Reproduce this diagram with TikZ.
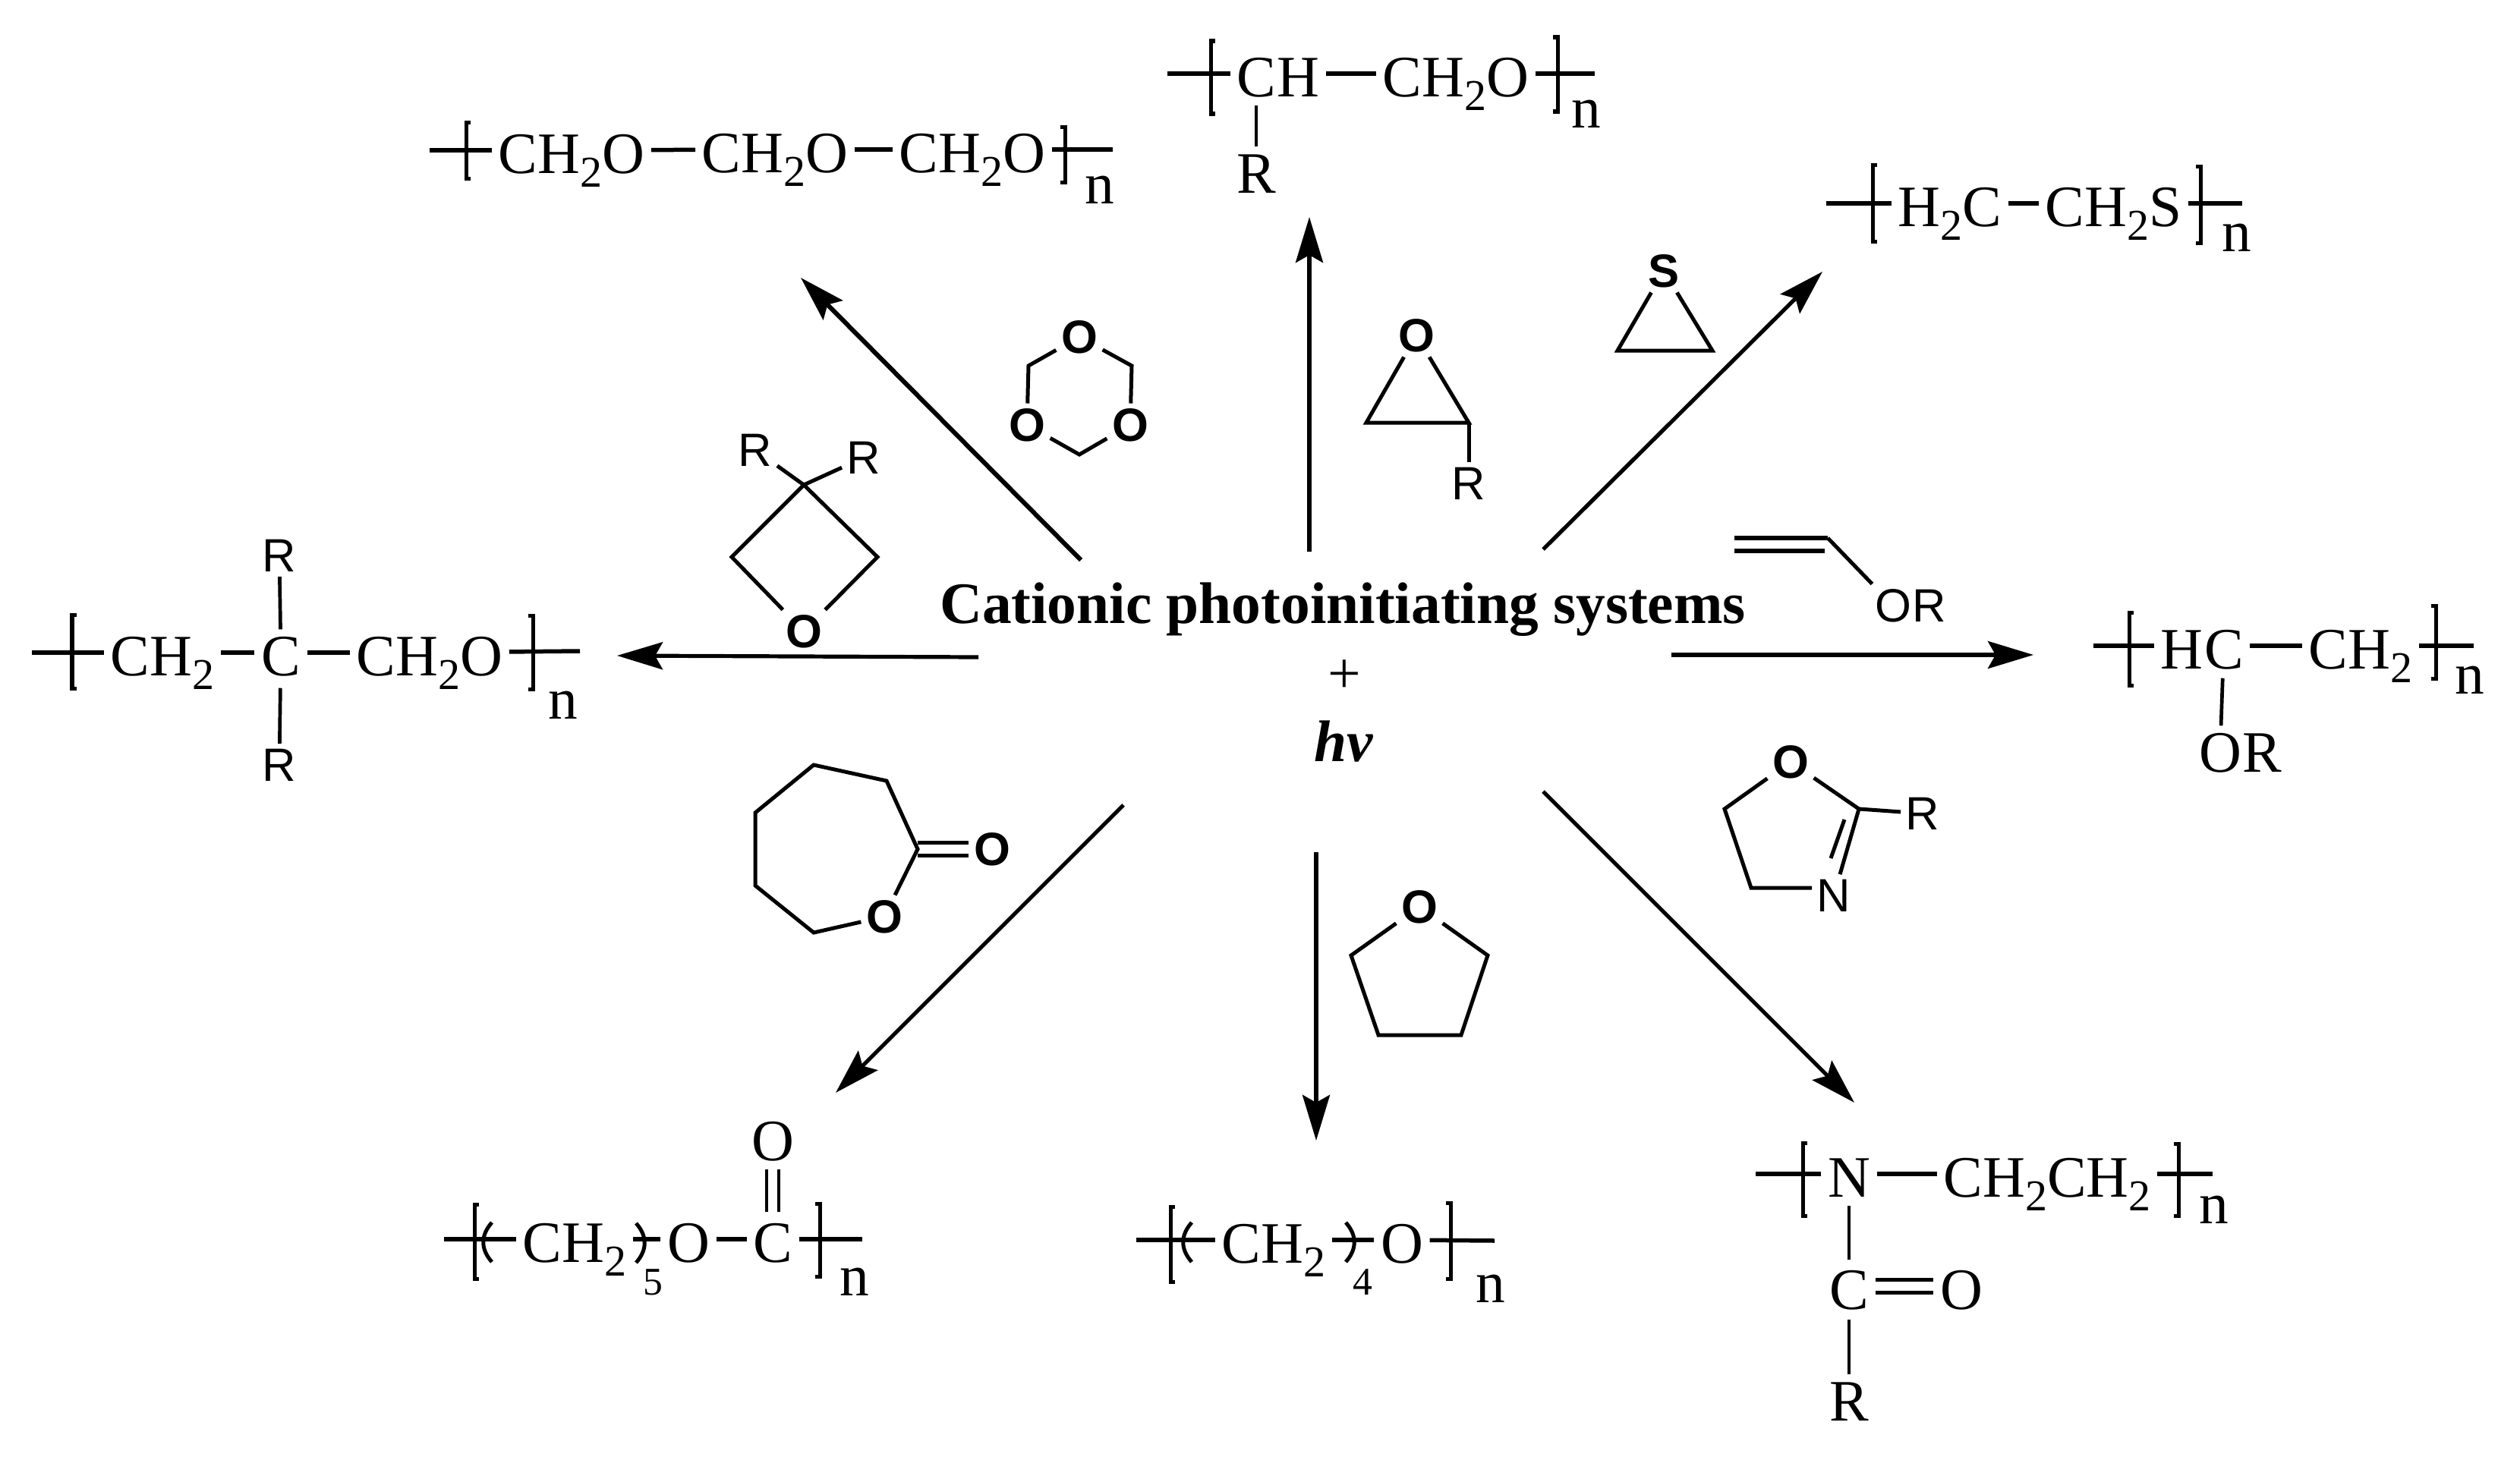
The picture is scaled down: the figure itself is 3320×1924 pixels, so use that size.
\documentclass[tikz,border=0pt]{standalone}
\usepackage{fontspec}
\setmainfont{Liberation Serif}
\setsansfont{Liberation Sans}
\usetikzlibrary{arrows.meta}
\newcommand{\low}[1]{\raisebox{-.18cm}{\fontsize{16.5}{18}\selectfont #1}}
\newcommand{\bral}[3]{\draw[brack] (#1+6,#2) -- (#1,#2) -- (#1,#3) -- (#1+6,#3);}
\newcommand{\brar}[3]{\draw[brack] (#1-6,#2) -- (#1,#2) -- (#1,#3) -- (#1-6,#3);}
\newcommand{\parl}[2]{\draw[brack] (#1,#2-26) .. controls (#1-15,#2-9) and (#1-15,#2+9) .. (#1,#2+26);}
\newcommand{\parr}[2]{\draw[brack] (#1,#2-26) .. controls (#1+15,#2-9) and (#1+15,#2+9) .. (#1,#2+26);}
\tikzset{
  chem/.style={anchor=west,inner sep=0pt,text height=.6cm,text depth=0pt,font=\fontsize{22}{24}\selectfont},
  atom/.style={chem,anchor=center},
  lab/.style={inner sep=.06cm,font=\sffamily\fontsize{17.5}{19}\selectfont},
  labb/.style={inner sep=.06cm,font=\sffamily\bfseries\fontsize{17.5}{19}\selectfont},
  bond/.style={line width=.055cm,shorten <=.08cm,shorten >=.08cm},
  chain/.style={line width=.055cm,shorten >=.08cm},
  vbond/.style={line width=.047cm},
  brack/.style={line width=.05cm},
  ring/.style={line width=.05cm,line join=miter},
  arr/.style={line width=.052cm,-{Stealth[length=.6cm,width=.36cm,inset=.1cm]}},
  title/.style={anchor=base,inner sep=0pt,font=\fontsize{22}{24}\selectfont},
  count/.style={anchor=base,inner sep=0pt,font=\fontsize{14.7}{16}\selectfont}
}
\begin{document}
\begin{tikzpicture}[x=.01cm,y=-.01cm]
\useasboundingbox (0,0) rectangle (3320,1924);

\node (sys) at (1769,821) [title] {\bfseries Cationic photoinitiating systems};
\node (plus) at (1771,913) [title] {+};
\node (hv) at (1770,1003) [title] {\bfseries\itshape hv};

\coordinate (A1s) at (1424,738);
\coordinate (A1e) at (1055,366);
\coordinate (A2s) at (1725,727);
\coordinate (A2e) at (1725,286);
\coordinate (A3s) at (2033,724);
\coordinate (A3e) at (2401,358);
\coordinate (A4s) at (2202,863);
\coordinate (A4e) at (2679,863);
\coordinate (A5s) at (1289,866);
\coordinate (A5e) at (813,864);
\coordinate (A6s) at (2033,1043);
\coordinate (A6e) at (2443,1453);
\coordinate (A7s) at (1734,1123);
\coordinate (A7e) at (1734,1503);
\coordinate (A8s) at (1480,1061);
\coordinate (A8e) at (1101,1440);
\draw [arr,line width=.06cm] (A1s) -- (A1e);
\draw [arr] (A2s) -- (A2e);
\draw [arr] (A3s) -- (A3e);
\draw [arr] (A4s) -- (A4e);
\draw [arr] (A5s) -- (A5e);
\draw [arr] (A6s) -- (A6e);
\draw [arr] (A7s) -- (A7e);
\draw [arr] (A8s) -- (A8e);

\node (P1a) at (656,198) [chem] {CH\low{2}O};
\node (P1b) at (924,197) [chem] {CH\low{2}O};
\node (P1c) at (1184,197) [chem] {CH\low{2}O};
\node (P1n) at (1429,238) [chem] {n};
\coordinate (P1l) at (566,198);
\coordinate (P1r) at (1466,197);
\draw [chain] (P1l) -- (P1a);
\draw [bond] (P1a) -- (P1b);
\draw [bond] (P1b) -- (P1c);
\draw [chain] (P1r) -- (P1c);
\bral{614}{161}{235}
\brar{1403}{167}{240}

\node (P2c) at (1655,97) [atom] {C};
\node (P2h) at (P2c.east) [chem] {H};
\node (P2a) at (1821,97) [chem] {CH\low{2}O};
\node (P2R) at (1655,224) [atom] {R};
\node (P2n) at (2070,138) [chem] {n};
\coordinate (P2l) at (1538,97);
\coordinate (P2r) at (2101,97);
\draw [chain] (P2l) -- (P2c);
\draw [bond] (P2h) -- (P2a);
\draw [chain] (P2r) -- (P2a);
\draw [vbond,shorten <=.11cm] (P2c) -- (P2R);
\bral{1595}{54}{150}
\brar{2052}{49}{147}

\node (P3a) at (2500,268) [chem] {H\low{2}C};
\node (P3b) at (2694,268) [chem] {CH\low{2}S};
\node (P3n) at (2927,301) [chem] {n};
\coordinate (P3l) at (2406,268);
\coordinate (P3r) at (2954,268);
\draw [chain] (P3l) -- (P3a);
\draw [bond] (P3a) -- (P3b);
\draw [chain] (P3r) -- (P3b);
\bral{2467}{217}{318}
\brar{2899}{219}{320}

\node (P4h) at (2846,851) [chem] {H};
\node (P4c) at (P4h.east) [chem] {C};
\node (P4a) at (3041,851) [chem] {CH\low{2}};
\node (P4o) at (2925,987) [atom] {O};
\node (P4R) at (P4o.east) [chem] {R};
\node (P4n) at (3234,884) [chem] {n};
\coordinate (P4l) at (2758,851);
\coordinate (P4r) at (3259,851);
\draw [chain] (P4l) -- (P4h);
\draw [bond] (P4c) -- (P4a);
\draw [chain] (P4r) -- (P4a);
\draw [vbond,shorten <=.12cm] (P4c) -- (P4o);
\bral{2805}{807}{903}
\brar{3209}{798}{894}

\node (P5a) at (145,860) [chem] {CH\low{2}};
\node (P5c) at (370,860) [atom] {C};
\node (P5b) at (469,860) [chem] {CH\low{2}O};
\node (P5n) at (722,917) [chem] {n};
\node (P5Ra) at (368,732) [lab] {R};
\node (P5Rb) at (368,1008) [lab] {R};
\coordinate (P5l) at (42,860);
\coordinate (P5r) at (764,858);
\draw [chain] (P5l) -- (P5a);
\draw [bond] (P5a) -- (P5c);
\draw [bond] (P5c) -- (P5b);
\draw [chain] (P5r) -- (P5b);
\draw [vbond] (P5c) -- (P5Ra);
\draw [vbond,shorten <=.16cm] (P5c) -- (P5Rb);
\bral{95}{810}{907}
\brar{702}{811}{908}

\node (P6a) at (688,1633) [chem] {CH\low{2}};
\node (P6o) at (907,1633) [atom] {O};
\node (P6c) at (1018,1633) [atom] {C};
\node (P6O) at (1018,1499) [atom] {O};
\node (P6n) at (1106,1677) [chem] {n};
\node (P6k) at (860,1706) [count] {5};
\coordinate (P6l) at (585,1633);
\coordinate (P6r) at (1136,1633);
\draw [chain] (P6l) -- (P6a);
\draw [bond] (P6a) -- (P6o);
\draw [bond] (P6o) -- (P6c);
\draw [chain] (P6r) -- (P6c);
\draw [vbond,shorten <=.11cm,shorten >=.05cm] ([xshift=-.08cm]P6O.south) -- ([xshift=-.08cm]P6c.north);
\draw [vbond,shorten <=.11cm,shorten >=.05cm] ([xshift=.08cm]P6O.south) -- ([xshift=.08cm]P6c.north);
\bral{625}{1587}{1685}
\brar{1080}{1586}{1682}
\parl{648}{1637}
\parr{838}{1638}

\node (P7a) at (1609,1634) [chem] {CH\low{2}};
\node (P7o) at (1847,1634) [atom] {O};
\node (P7n) at (1944,1686) [chem] {n};
\node (P7k) at (1795,1706) [count] {4};
\coordinate (P7l) at (1497,1634);
\coordinate (P7r) at (1969,1635);
\draw [chain] (P7l) -- (P7a);
\draw [bond] (P7a) -- (P7o);
\draw [chain] (P7r) -- (P7o);
\bral{1542}{1590}{1689}
\brar{1911}{1585}{1685}
\parl{1570}{1637}
\parr{1773}{1637}

\node (P8N) at (2436,1547) [atom] {N};
\node (P8a) at (2560,1547) [chem] {CH\low{2}CH\low{2}};
\node (P8c) at (2436,1695) [atom] {C};
\node (P8O) at (2584,1695) [atom] {O};
\node (P8R) at (2436,1842) [atom] {R};
\node (P8n) at (2897,1582) [chem] {n};
\coordinate (P8l) at (2313,1547);
\coordinate (P8r) at (2915,1547);
\draw [chain] (P8l) -- (P8N);
\draw [bond] (P8N) -- (P8a);
\draw [chain] (P8r) -- (P8a);
\draw [vbond,shorten <=.11cm,shorten >=.04cm] (P8N) -- (P8c);
\draw [vbond,shorten <=.13cm] (P8c) -- (P8R);
\draw [bond] ([yshift=.085cm]P8c.east) -- ([yshift=.085cm]P8O.west);
\draw [bond] ([yshift=-.085cm]P8c.east) -- ([yshift=-.085cm]P8O.west);
\bral{2375}{1506}{1602}
\brar{2870}{1507}{1602}

\node (T1) at (1422,444) [labb] {O};
\node (T2) at (1353,560) [labb] {O};
\node (T3) at (1489,560) [labb] {O};
\coordinate (T4) at (1355,482);
\coordinate (T5) at (1491,482);
\coordinate (T6) at (1422,599);
\draw [ring] (T1) -- (T4) -- (T2) -- (T6) -- (T3) -- (T5) -- (T1);

\node (X1) at (1059,832) [labb] {O};
\node (X2) at (995,593) [lab] {R};
\node (X3) at (1138,603) [lab] {R};
\coordinate (X4) at (1059,639);
\coordinate (X5) at (964,734);
\coordinate (X6) at (1156,734);
\draw [ring] (X1) -- (X5) -- (X4) -- (X6) -- (X1);
\draw [ring] (X2) -- (X4) -- (X3);

\node (E1) at (1866,442) [labb] {O};
\node (E2) at (1935,637) [lab] {R};
\coordinate (E3) at (1800,557);
\coordinate (E4) at (1935,557);
\draw [ring] (E1) -- (E3) -- (E4) -- (E1);
\draw [ring] (E4) -- (E2);

\node (S1) at (2192,357) [labb] {S};
\coordinate (S2) at (2131,462);
\coordinate (S3) at (2256,462);
\draw [ring] (S1) -- (S2) -- (S3) -- (S1);

\node (V1) at (2494,798) [lab] {O};
\node (V2) at ([xshift=-.06cm]V1.east) [lab,anchor=west,inner xsep=0pt] {R};
\coordinate (V3) at (2285,709);
\coordinate (V4) at (2408,709);
\coordinate (V5) at (2285,726);
\coordinate (V6) at (2404,726);
\draw [ring,line width=.055cm] (V3) -- (V4);
\draw [ring,line width=.055cm] (V5) -- (V6);
\draw [ring] (V4) -- (V1);

\node (Z1) at (2359,1004) [labb] {O};
\node (Z2) at (2416,1180) [lab] {N};
\node (Z3) at (2533,1072) [lab] {R};
\coordinate (Z4) at (2272,1066);
\coordinate (Z5) at (2307,1170);
\coordinate (Z6) at (2449,1066);
\coordinate (Z7) at (2430,1080);
\coordinate (Z8) at (2412,1131);
\coordinate (Z9) at (2387,1170);
\draw [ring] (Z1) -- (Z4) -- (Z5) -- (Z9);
\draw [ring] (Z2) -- (Z6) -- (Z1);
\draw [ring] (Z6) -- (Z3);
\draw [ring] (Z7) -- (Z8);

\node (F1) at (1870,1195) [labb] {O};
\coordinate (F2) at (1780,1259);
\coordinate (F3) at (1816,1364);
\coordinate (F4) at (1925,1364);
\coordinate (F5) at (1960,1259);
\draw [ring] (F1) -- (F2) -- (F3) -- (F4) -- (F5) -- (F1);

\node (L1) at (1165,1208) [labb] {O};
\node (L2) at (1307,1119) [labb] {O};
\coordinate (L3) at (1209,1119);
\coordinate (L4) at (1168,1029);
\coordinate (L5) at (1072,1008);
\coordinate (L6) at (995,1071);
\coordinate (L7) at (995,1167);
\coordinate (L8) at (1072,1229);
\draw [ring] (L1) -- (L3) -- (L4) -- (L5) -- (L6) -- (L7) -- (L8) -- (L1);
\draw [ring] ([yshift=.085cm]L3) -- ([yshift=.085cm]L2.west);
\draw [ring] ([yshift=-.085cm]L3) -- ([yshift=-.085cm]L2.west);
\end{tikzpicture}
\end{document}
